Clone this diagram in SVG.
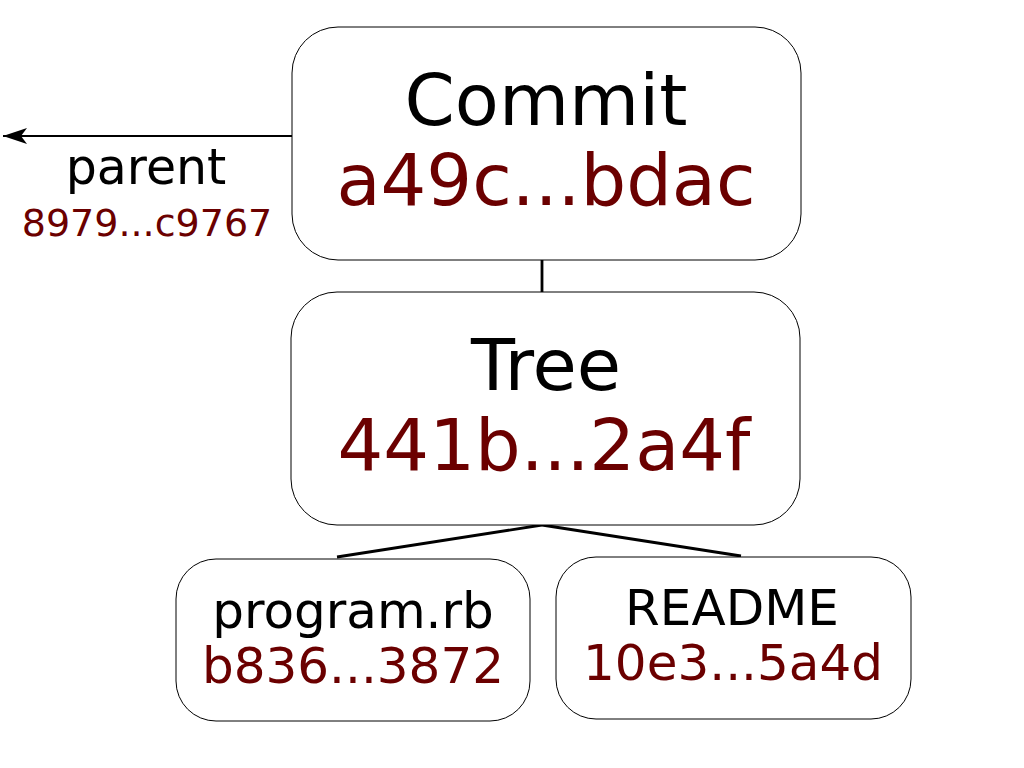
<svg xmlns="http://www.w3.org/2000/svg" width="1024" height="768" viewBox="0 0 1024 768">
<defs>
<style>
.box{fill:#fff;stroke:#000;stroke-width:1}
.t{font-family:"DejaVu Sans","Liberation Sans",sans-serif;text-anchor:middle;fill:#000}
.h{fill:#6b0000}
.big{font-size:72px}
.mid{font-size:50px}
.sm{font-size:38px}
.c{stroke:#000;stroke-width:2.8;fill:none}
</style>
<marker id="ah" viewBox="0 0 24 16" refX="24" refY="8" markerWidth="24" markerHeight="16" markerUnits="userSpaceOnUse" orient="auto">
<path d="M24,8 L0,0 L6,8 L0,16 Z" fill="#000"/>
</marker>
</defs>
<rect width="1024" height="768" fill="#fff"/>
<g id="connectors">
<line class="c" x1="292" y1="136" x2="3" y2="136" style="stroke-width:1.8" marker-end="url(#ah)"/>
<line class="c" x1="542" y1="260" x2="542" y2="292"/>
<line class="c" x1="542" y1="525" x2="337" y2="557"/>
<line class="c" x1="542" y1="525" x2="741" y2="556"/>
</g>
<g id="parent-label">
<text class="t" x="146" y="184" style="font-size:49px">parent</text>
<text class="t h sm" x="147" y="236">8979...c9767</text>
</g>
<g id="commit">
<rect class="box" x="292" y="27" width="509" height="233" rx="46" ry="46"/>
<text class="t big" x="546" y="125">Commit</text>
<text class="t h big" x="546" y="205">a49c...bdac</text>
</g>
<g id="tree">
<rect class="box" x="291" y="292" width="509" height="233" rx="46" ry="46"/>
<text class="t big" x="546" y="390">Tree</text>
<text class="t h big" x="544" y="470">441b...2a4f</text>
</g>
<g id="program">
<rect class="box" x="176" y="559" width="354" height="162" rx="40" ry="40"/>
<text class="t mid" x="353" y="628">program.rb</text>
<text class="t h mid" x="353" y="683">b836...3872</text>
</g>
<g id="readme">
<rect class="box" x="556" y="557" width="355" height="162" rx="40" ry="40"/>
<text class="t mid" x="732" y="625">README</text>
<text class="t h mid" x="733" y="680">10e3...5a4d</text>
</g>
</svg>
